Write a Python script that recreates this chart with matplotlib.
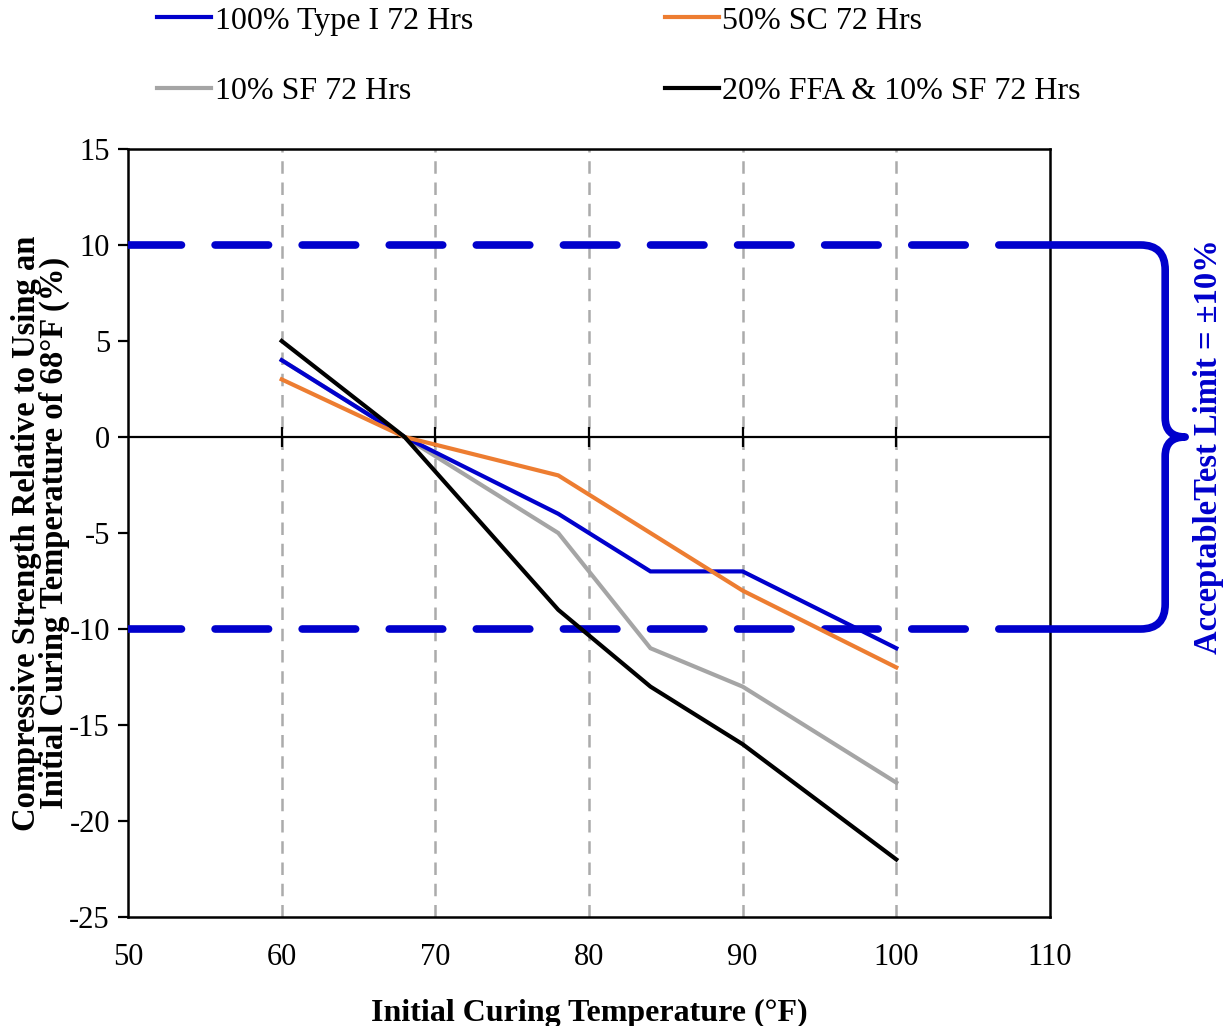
import matplotlib
matplotlib.use("Agg")
import matplotlib.pyplot as plt
from matplotlib.path import Path
from matplotlib.patches import PathPatch

plt.rcParams['font.family'] = ['Liberation Serif', 'DejaVu Serif']
plt.rcParams['axes.unicode_minus'] = False

# Initial curing temperatures (°F)
temps = [60, 68, 78, 84, 90, 100]

# Strength relative to 68°F curing (%)
type1_72 = [4, 0, -4, -7, -7, -11]
sc50_72 = [3, 0, -2, -5, -8, -12]
sf10_72 = [4, 0, -5, -11, -13, -18]
ffa_sf_72 = [5, 0, -9, -13, -16, -22]

series_labels = ["100% Type I 72 Hrs", "50% SC 72 Hrs",
                 "10% SF 72 Hrs", "20% FFA & 10% SF 72 Hrs"]
series_colors = ["#0000CC", "#ED7D31", "#A5A5A5", "#000000"]

x_ticks = [50, 60, 70, 80, 90, 100, 110]
y_ticks = [-25, -20, -15, -10, -5, 0, 5, 10, 15]
limit = 10

fig = plt.figure(figsize=(12.23, 10.26), dpi=100)
ax = fig.add_axes([0.1047, 0.1062, 0.7538, 0.7486])

ax.set_xlim(50, 110)
ax.set_ylim(-25, 15)

# vertical dashed grid
for xv in x_ticks[1:-1]:
    ax.axvline(xv, color="#ABABAB", lw=1.8, dashes=(5, 3.5), zorder=1)

# zero line with cross ticks
ax.axhline(0, color="black", lw=1.6, zorder=2)
ax.plot(x_ticks[1:-1], [0] * len(x_ticks[1:-1]), ls="none", marker="|",
        ms=14, mew=1.6, color="black", zorder=2)

# acceptable limits
for yv in (limit, -limit):
    ax.axhline(yv, color="#0000CC", lw=5.5, dashes=(7, 4.4),
               dash_capstyle="round", zorder=3)

series = [type1_72, sc50_72, sf10_72, ffa_sf_72]
handles = []
for vals, lab, col in zip(series, series_labels, series_colors):
    h, = ax.plot(temps, vals, color=col, lw=3, label=lab, zorder=4,
                 solid_joinstyle="miter")
    handles.append(h)

# gray series sits beneath the others where they cross
handles[2].set_zorder(3.5)

ax.set_xticks(x_ticks)
ax.set_yticks(y_ticks)
ax.tick_params(axis="x", length=0, pad=19, labelsize=22)
ax.tick_params(axis="y", direction="out", length=7, width=1.6, pad=6,
               labelsize=22)
for s in ax.spines.values():
    s.set_linewidth(1.8)

ax.set_xlabel("Initial Curing Temperature (°F)", fontsize=23,
              fontweight="bold", labelpad=19)
ax.set_ylabel("Compressive Strength Relative to Using an\n"
              "Initial Curing Temperature of 68°F (%)", fontsize=23.5,
              fontweight="bold", linespacing=0.85)
ax.yaxis.set_label_coords(-0.063, 0.5)

# brace to the right of the plot marking the ±10% band
xs, xv, xt = 110, 117.5, 118.8
verts = [(xs, limit), (xv - 1.6, limit), (xv, limit), (xv, limit - 1.3),
         (xv, 1.0), (xv, 0), (xt, 0), (xv, 0), (xv, -1.0),
         (xv, -limit + 1.3), (xv, -limit), (xv - 1.6, -limit), (xs, -limit)]
codes = [Path.MOVETO, Path.LINETO, Path.CURVE3, Path.CURVE3,
         Path.LINETO, Path.CURVE3, Path.CURVE3, Path.CURVE3, Path.CURVE3,
         Path.LINETO, Path.CURVE3, Path.CURVE3, Path.LINETO]
brace = PathPatch(Path(verts, codes), fill=False, ec="#0000CC", lw=5.5,
                  capstyle="butt", joinstyle="round", clip_on=False, zorder=5)
ax.add_patch(brace)
ax.text(120.3, -0.5, "AcceptableTest Limit = \u00b110%", rotation=90,
        color="#0000CC", fontsize=23.5, fontweight="bold", ha="center",
        va="center", clip_on=False)

order = [0, 2, 1, 3]
fig.legend([handles[i] for i in order], [series_labels[i] for i in order],
           ncol=2, loc="upper left", bbox_to_anchor=(0.105, 1.022),
           frameon=False, fontsize=23, handlelength=1.7, handletextpad=0.1,
           labelspacing=1.3, columnspacing=6.0)

fig.savefig("out.png", dpi=100)
